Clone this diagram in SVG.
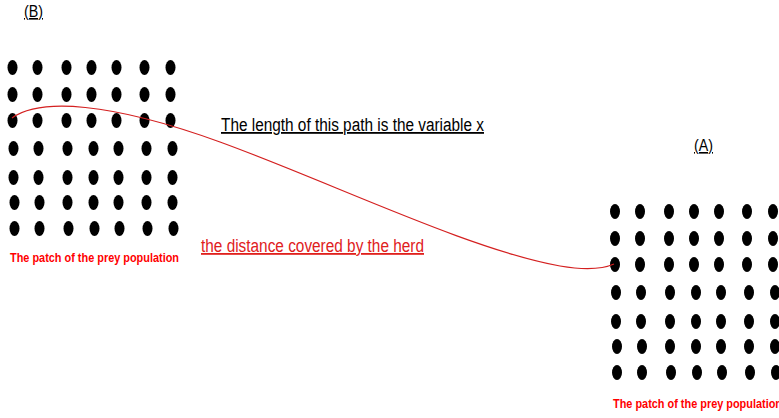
<svg xmlns="http://www.w3.org/2000/svg" width="779" height="418" viewBox="0 0 779 418">
<style>
.dot{fill:#000}
.lbl{font-family:"Liberation Sans",Arial,sans-serif;text-decoration:underline}
.patch{font-family:"Liberation Sans",Arial,sans-serif;font-weight:bold;fill:#ff0000;font-size:13px}
</style>
<defs>
<ellipse id="d" cx="0" cy="0" rx="5" ry="7.5" class="dot"/>
<g id="grid">
<use href="#d" x="0" y="0"/><use href="#d" x="25" y="0"/><use href="#d" x="54" y="0"/><use href="#d" x="79" y="0"/><use href="#d" x="104" y="0"/><use href="#d" x="132" y="0"/><use href="#d" x="158" y="0"/>
<use href="#d" x="0" y="27"/><use href="#d" x="25" y="27"/><use href="#d" x="54" y="27"/><use href="#d" x="79" y="27"/><use href="#d" x="104" y="27"/><use href="#d" x="132" y="27"/><use href="#d" x="158" y="27"/>
<use href="#d" x="0" y="53"/><use href="#d" x="25" y="53"/><use href="#d" x="54" y="53"/><use href="#d" x="79" y="53"/><use href="#d" x="104" y="53"/><use href="#d" x="132" y="53"/><use href="#d" x="158" y="53"/>
<use href="#d" x="1" y="81"/><use href="#d" x="26" y="81"/><use href="#d" x="55" y="81"/><use href="#d" x="81" y="81"/><use href="#d" x="106" y="81"/><use href="#d" x="134" y="81"/><use href="#d" x="160" y="81"/>
<use href="#d" x="1" y="110"/><use href="#d" x="26" y="110"/><use href="#d" x="55" y="110"/><use href="#d" x="81" y="110"/><use href="#d" x="106" y="110"/><use href="#d" x="134" y="110"/><use href="#d" x="160" y="110"/>
<use href="#d" x="2" y="135"/><use href="#d" x="27" y="135"/><use href="#d" x="55" y="135"/><use href="#d" x="81" y="135"/><use href="#d" x="106" y="135"/><use href="#d" x="134" y="135"/><use href="#d" x="160" y="135"/>
<use href="#d" x="2" y="161"/><use href="#d" x="27" y="161"/><use href="#d" x="56" y="161"/><use href="#d" x="82" y="161"/><use href="#d" x="107" y="161"/><use href="#d" x="135" y="161"/><use href="#d" x="161" y="161"/>
</g>
</defs>
<g id="patchB">
<use href="#grid" x="12.5" y="67.5"/>
<text class="patch" x="10" y="262" textLength="169" lengthAdjust="spacingAndGlyphs">The patch of the prey population</text>
</g>
<g id="patchA">
<use href="#grid" x="615" y="211.5"/>
<text class="patch" x="613" y="408" textLength="169" lengthAdjust="spacingAndGlyphs">The patch of the prey population</text>
</g>
<g id="labelB"><text class="lbl" x="24" y="17" font-size="16" fill="#000" textLength="19" lengthAdjust="spacingAndGlyphs">(B)</text></g>
<g id="labelA"><text class="lbl" x="694" y="151" font-size="16" fill="#000" textLength="19" lengthAdjust="spacingAndGlyphs">(A)</text></g>
<g id="labelPath"><text class="lbl" x="221" y="131" font-size="18" fill="#000" textLength="263" lengthAdjust="spacingAndGlyphs">The length of this path is the variable x</text></g>
<g id="labelHerd"><text class="lbl" x="201" y="252" font-size="18" fill="#e0201c" textLength="223" lengthAdjust="spacingAndGlyphs">the distance covered by the herd</text></g>
<g id="connectors">
<path d="M12,118 C40,98 110,102 220,142 C330,182 470,250 560,266 C590,271 605,268 614,264" fill="none" stroke="#d42020" stroke-width="1.2"/>
</g>
</svg>
